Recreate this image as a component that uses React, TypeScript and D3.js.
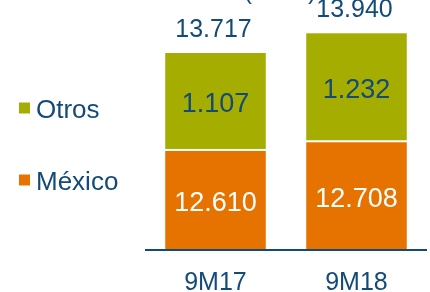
import React, { useEffect, useRef } from 'react';
import * as d3 from 'd3';

const periods = ['9M17', '9M18'];
const mexico = [12610, 12708];
const otros = [1107, 1232];
const totals = [13717, 13940];
const seriesNames = ['Otros', 'México'];

const GREEN = '#a4ad00';
const ORANGE = '#e67300';
const NAVY = '#124a79';
const FONT = "Arial, 'Liberation Sans', sans-serif";

const fmt = (v: number) => d3.format(',')(v).replace(/,/g, '.');

const App: React.FC = () => {
  const svgRef = useRef<SVGSVGElement>(null);

  useEffect(() => {
    if (!svgRef.current) return;
    const svg = d3.select(svgRef.current);
    svg.selectAll('*').remove();

    const x = d3.scaleBand<string>()
      .domain(periods)
      .range([145, 427])
      .paddingInner(0.287)
      .paddingOuter(0.1435);

    // truncated value axis, as in the source slide
    const y = d3.scaleLinear()
      .domain([11490, 13940])
      .range([250, 33.3]);

    const g = svg.append('g').style('font-family', FONT);

    // cut-off unit label at the very top
    g.append('text')
      .attr('x', 280)
      .attr('y', -1.5)
      .attr('text-anchor', 'middle')
      .attr('fill', NAVY)
      .style('font-size', '24px')
      .text('(miles)');

    const bars = g.selectAll('.bar')
      .data(periods)
      .enter().append('g')
      .attr('class', 'bar');

    // México segment
    bars.append('rect')
      .attr('x', d => x(d)!)
      .attr('width', x.bandwidth())
      .attr('y', (d, i) => y(mexico[i]))
      .attr('height', (d, i) => y.range()[0] - y(mexico[i]))
      .attr('fill', ORANGE);

    // Otros segment (with a thin white gap)
    bars.append('rect')
      .attr('x', d => x(d)!)
      .attr('width', x.bandwidth())
      .attr('y', (d, i) => y(totals[i]))
      .attr('height', (d, i) => y(mexico[i]) - y(totals[i]) - 2)
      .attr('fill', GREEN);

    bars.append('text')
      .attr('x', d => x(d)! + x.bandwidth() / 2)
      .attr('y', (d, i) => (y(mexico[i]) + y.range()[0]) / 2 + 11)
      .attr('text-anchor', 'middle')
      .attr('fill', '#fff')
      .style('font-size', '27px')
      .text((d, i) => fmt(mexico[i]));

    bars.append('text')
      .attr('x', d => x(d)! + x.bandwidth() / 2)
      .attr('y', (d, i) => (y(totals[i]) + y(mexico[i])) / 2 + 10)
      .attr('text-anchor', 'middle')
      .attr('fill', NAVY)
      .style('font-size', '27px')
      .text((d, i) => fmt(otros[i]));

    bars.append('text')
      .attr('x', d => x(d)! + x.bandwidth() / 2 - 2)
      .attr('y', (d, i) => y(totals[i]) - 16)
      .attr('text-anchor', 'middle')
      .attr('fill', NAVY)
      .style('font-size', '25px')
      .text((d, i) => fmt(totals[i]));

    // axis line and category labels
    g.append('line')
      .attr('x1', 145)
      .attr('x2', 427)
      .attr('y1', 250)
      .attr('y2', 250)
      .attr('stroke', NAVY)
      .attr('stroke-width', 2);

    g.selectAll('.cat')
      .data(periods)
      .enter().append('text')
      .attr('class', 'cat')
      .attr('x', d => x(d)! + x.bandwidth() / 2)
      .attr('y', 290)
      .attr('text-anchor', 'middle')
      .attr('fill', NAVY)
      .style('font-size', '25px')
      .text(d => d);

    // legend
    const legendY = [118, 190];
    const colors = [GREEN, ORANGE];
    const legend = g.selectAll('.legend')
      .data(seriesNames)
      .enter().append('g')
      .attr('class', 'legend');

    legend.append('rect')
      .attr('x', 19)
      .attr('y', (d, i) => legendY[i] - 15.5)
      .attr('width', 11)
      .attr('height', 11)
      .attr('fill', (d, i) => colors[i]);

    legend.append('text')
      .attr('x', 36)
      .attr('y', (d, i) => legendY[i])
      .attr('fill', NAVY)
      .style('font-size', '26px')
      .text(d => d);
  }, []);

  return (
    <div style={{ position: 'fixed', left: 0, top: 0 }}>
      <svg ref={svgRef} width={430} height={292} style={{ display: 'block' }} />
    </div>
  );
};

export default App;
